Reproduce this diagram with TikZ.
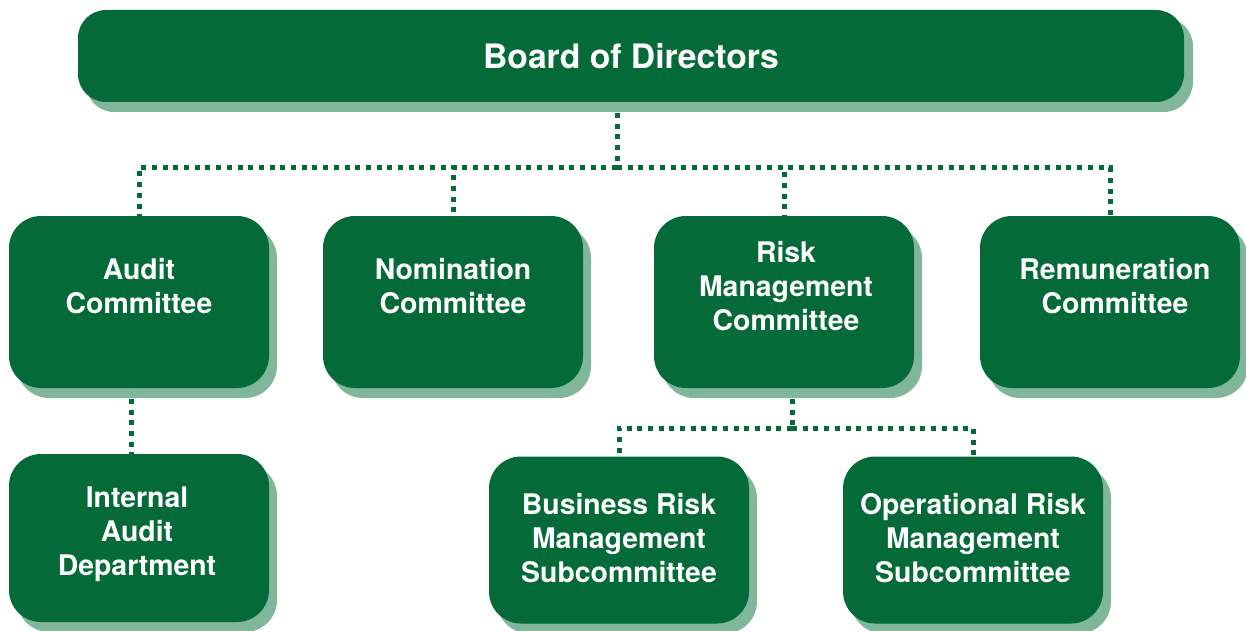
\documentclass[tikz,border=0pt]{standalone}
\usepackage{fontspec}
\setmainfont{TeX Gyre Heros}
\usetikzlibrary{shadows,backgrounds}
\definecolor{cc}{RGB}{4, 106, 56}
\definecolor{cs}{RGB}{128, 183, 154}

\tikzset{
  unit/.style={rectangle, rounded corners=32pt, fill=cc, minimum width=260pt, minimum height=172pt, inner sep=0pt,
    drop shadow={shadow xshift=8pt, shadow yshift=-10pt, opacity=1, fill=cs}},
  unittext/.style={align=center, text=white, inner sep=0pt, font=\fontsize{28.4}{34}\selectfont\bfseries},
  link/.style={draw=cc, line width=5pt, dash pattern=on 5pt off 5.7pt},
}

\begin{document}
\begin{tikzpicture}
\useasboundingbox (0pt, 0pt) rectangle (1246pt, -631pt);
% board on top
\node (board) [unit, rounded corners=28pt, minimum width=1106pt, minimum height=92pt, text=white,
  font=\fontsize{33.7}{40}\selectfont\bfseries,
  drop shadow={shadow xshift=9pt, shadow yshift=-8pt, opacity=1, fill=cs}] at (631pt, -56pt) {Board of Directors};
% committees
\node (audit) [unit] at (139pt, -302pt) {};
\node (nomination) [unit] at (453pt, -302pt) {};
\node (risk) [unit] at (784pt, -302pt) {};
\node (remuneration) [unit] at (1110pt, -302pt) {};
\node (internal) [unit, minimum height=168pt] at (139pt, -538pt) {};
\node (business) [unit, minimum height=167pt] at (619pt, -540pt) {};
\node (operational) [unit, minimum height=167pt] at (973pt, -540pt) {};
% texts
\node (audit-t) [unittext] at (139pt, -286pt) {Audit\\Committee};
\node (nomination-t) [unittext] at (453pt, -286pt) {Nomination\\Committee};
\node (risk-t) [unittext] at (786pt, -286pt) {Risk\\Management\\Committee};
\node (remuneration-t) [unittext] at (1115pt, -286pt) {Remuneration\\Committee};
\node (internal-t) [unittext] at (137pt, -534pt) {Internal\\Audit\\Department};
\node (business-t) [unittext] at (619pt, -538pt) {Business Risk\\Management\\Subcommittee};
\node (operational-t) [unittext] at (973pt, -538pt) {Operational Risk\\Management\\Subcommittee};
% dotted links
\coordinate (bus) at (617pt, -168pt);
\coordinate (riskbus) at (792pt, -428pt);
\begin{scope}[on background layer]
\draw [link] (bus |- board.south) -- (bus);
\draw [link] (bus) -| (audit.north);
\draw [link] (bus) -| (nomination.north);
\draw [link] (bus) -| (risk.north);
\draw [link] (bus) -| (remuneration.north);
\draw [link] (riskbus |- risk.south) -- (riskbus);
\draw [link] (riskbus) -| (business.north);
\draw [link] (riskbus) -| (operational.north);
\draw [link] ([xshift=-8pt]audit.south) -- ([xshift=-8pt]internal.north);
\end{scope}
\end{tikzpicture}
\end{document}
